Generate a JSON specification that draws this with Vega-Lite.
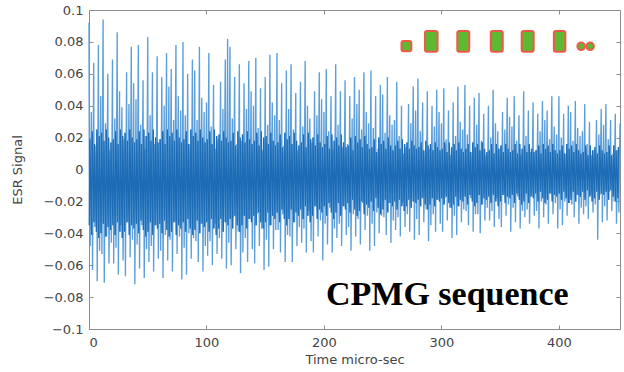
{
"$schema": "https://vega.github.io/schema/vega-lite/v6.json",
"width": 531, "height": 319,
"autosize": "none",
"padding": {"left": 89, "top": 10, "right": 4, "bottom": 43},
"background": "white",
"config": {
 "view": {"stroke": "#8c8c8c", "strokeWidth": 1},
 "axis": {"labelFont": "DejaVu Sans", "labelFontSize": 13, "labelColor": "#444444", "titleFont": "DejaVu Sans", "titleFontSize": 13, "titleColor": "#444444", "titleFontWeight": "normal", "domain": false, "grid": false, "tickColor": "#8c8c8c", "tickSize": -4}
},
"resolve": {"axis": {"x": "independent", "y": "independent"}},
"datasets": {"sig": [
{"t":0,"v":0.092},{"t":0.33,"v":-0.035},{"t":0.67,"v":0.019},{"t":1,"v":-0.048},{"t":2,"v":0.036},{"t":2.33,"v":-0.041},{"t":2.67,"v":0.024},{"t":3,"v":-0.063},{"t":4,"v":0.067},{"t":4.33,"v":-0.033},{"t":4.67,"v":0.016},{"t":5,"v":-0.036},{"t":6,"v":0.015},{"t":6.33,"v":-0.039},{"t":6.67,"v":0.025},{"t":7,"v":-0.070},{"t":8,"v":0.078},{"t":8.33,"v":-0.043},{"t":8.67,"v":0.021},{"t":9,"v":-0.051},
{"t":10,"v":0.046},{"t":10.33,"v":-0.040},{"t":10.67,"v":0.023},{"t":11,"v":-0.053},{"t":12,"v":0.094},{"t":12.33,"v":-0.034},{"t":12.67,"v":0.018},{"t":13,"v":-0.071},{"t":14,"v":0.029},{"t":14.33,"v":-0.042},{"t":14.67,"v":0.025},{"t":15,"v":-0.042},{"t":16,"v":0.060},{"t":16.33,"v":-0.036},{"t":16.67,"v":0.020},{"t":17,"v":-0.059},{"t":18,"v":0.012},{"t":18.33,"v":-0.038},{"t":18.67,"v":0.017},{"t":19,"v":-0.046},
{"t":20,"v":0.069},{"t":20.33,"v":-0.035},{"t":20.67,"v":0.019},{"t":21,"v":-0.059},{"t":22,"v":0.032},{"t":22.33,"v":-0.041},{"t":22.67,"v":0.024},{"t":23,"v":-0.049},{"t":24,"v":0.086},{"t":24.33,"v":-0.033},{"t":24.67,"v":0.016},{"t":25,"v":-0.066},{"t":26,"v":0.049},{"t":26.33,"v":-0.039},{"t":26.67,"v":0.025},{"t":27,"v":-0.035},{"t":28,"v":0.039},{"t":28.33,"v":-0.043},{"t":28.67,"v":0.021},{"t":29,"v":-0.057},
{"t":30,"v":0.019},{"t":30.33,"v":-0.039},{"t":30.67,"v":0.023},{"t":31,"v":-0.067},{"t":32,"v":0.061},{"t":32.33,"v":-0.033},{"t":32.67,"v":0.018},{"t":33,"v":-0.033},{"t":34,"v":0.041},{"t":34.33,"v":-0.041},{"t":34.67,"v":0.025},{"t":35,"v":-0.055},{"t":36,"v":0.077},{"t":36.33,"v":-0.035},{"t":36.67,"v":0.020},{"t":37,"v":-0.044},{"t":38,"v":0.054},{"t":38.33,"v":-0.037},{"t":38.67,"v":0.017},{"t":39,"v":-0.072},
{"t":40,"v":0.044},{"t":40.33,"v":-0.034},{"t":40.67,"v":0.019},{"t":41,"v":-0.047},{"t":42,"v":0.078},{"t":42.33,"v":-0.040},{"t":42.67,"v":0.024},{"t":43,"v":-0.062},{"t":44,"v":0.028},{"t":44.33,"v":-0.032},{"t":44.67,"v":0.016},{"t":45,"v":-0.035},{"t":46,"v":0.056},{"t":46.33,"v":-0.038},{"t":46.67,"v":0.025},{"t":47,"v":-0.068},{"t":48,"v":0.013},{"t":48.33,"v":-0.042},{"t":48.67,"v":0.021},{"t":49,"v":-0.050},
{"t":50,"v":0.083},{"t":50.33,"v":-0.039},{"t":50.67,"v":0.023},{"t":51,"v":-0.058},{"t":52,"v":0.034},{"t":52.33,"v":-0.033},{"t":52.67,"v":0.018},{"t":53,"v":-0.048},{"t":54,"v":0.061},{"t":54.33,"v":-0.041},{"t":54.67,"v":0.025},{"t":55,"v":-0.064},{"t":56,"v":0.016},{"t":56.33,"v":-0.035},{"t":56.67,"v":0.020},{"t":57,"v":-0.035},{"t":58,"v":0.071},{"t":58.33,"v":-0.037},{"t":58.67,"v":0.017},{"t":59,"v":-0.056},
{"t":60,"v":0.019},{"t":60.33,"v":-0.034},{"t":60.67,"v":0.019},{"t":61,"v":-0.051},{"t":62,"v":0.058},{"t":62.33,"v":-0.040},{"t":62.67,"v":0.024},{"t":63,"v":-0.068},{"t":64,"v":0.040},{"t":64.33,"v":-0.032},{"t":64.67,"v":0.016},{"t":65,"v":-0.041},{"t":66,"v":0.073},{"t":66.33,"v":-0.038},{"t":66.67,"v":0.025},{"t":67,"v":-0.057},{"t":68,"v":0.052},{"t":68.33,"v":-0.042},{"t":68.67,"v":0.021},{"t":69,"v":-0.044},
{"t":70,"v":0.063},{"t":70.33,"v":-0.039},{"t":70.67,"v":0.023},{"t":71,"v":-0.064},{"t":72,"v":0.031},{"t":72.33,"v":-0.033},{"t":72.67,"v":0.018},{"t":73,"v":-0.033},{"t":74,"v":0.078},{"t":74.33,"v":-0.041},{"t":74.67,"v":0.025},{"t":75,"v":-0.053},{"t":76,"v":0.046},{"t":76.33,"v":-0.035},{"t":76.67,"v":0.020},{"t":77,"v":-0.042},{"t":78,"v":0.037},{"t":78.33,"v":-0.037},{"t":78.67,"v":0.017},{"t":79,"v":-0.069},
{"t":80,"v":0.080},{"t":80.33,"v":-0.033},{"t":80.67,"v":0.019},{"t":81,"v":-0.049},{"t":82,"v":0.034},{"t":82.33,"v":-0.039},{"t":82.67,"v":0.024},{"t":83,"v":-0.066},{"t":84,"v":0.060},{"t":84.33,"v":-0.031},{"t":84.67,"v":0.016},{"t":85,"v":-0.040},{"t":86,"v":0.016},{"t":86.33,"v":-0.037},{"t":86.67,"v":0.025},{"t":87,"v":-0.056},{"t":88,"v":0.069},{"t":88.33,"v":-0.041},{"t":88.67,"v":0.021},{"t":89,"v":-0.043},
{"t":90,"v":0.062},{"t":90.33,"v":-0.038},{"t":90.67,"v":0.023},{"t":91,"v":-0.045},{"t":92,"v":0.031},{"t":92.33,"v":-0.032},{"t":92.67,"v":0.018},{"t":93,"v":-0.058},{"t":94,"v":0.077},{"t":94.33,"v":-0.040},{"t":94.67,"v":0.025},{"t":95,"v":-0.034},{"t":96,"v":0.045},{"t":96.33,"v":-0.034},{"t":96.67,"v":0.020},{"t":97,"v":-0.064},{"t":98,"v":0.036},{"t":98.33,"v":-0.036},{"t":98.67,"v":0.017},{"t":99,"v":-0.048},
{"t":100,"v":0.042},{"t":100.33,"v":-0.033},{"t":100.67,"v":0.019},{"t":101,"v":-0.054},{"t":102,"v":0.073},{"t":102.33,"v":-0.039},{"t":102.67,"v":0.024},{"t":103,"v":-0.045},{"t":104,"v":0.027},{"t":104.33,"v":-0.031},{"t":104.67,"v":0.016},{"t":105,"v":-0.060},{"t":106,"v":0.053},{"t":106.33,"v":-0.037},{"t":106.67,"v":0.025},{"t":107,"v":-0.034},{"t":108,"v":0.013},{"t":108.33,"v":-0.041},{"t":108.67,"v":0.021},{"t":109,"v":-0.053},
{"t":110,"v":0.019},{"t":110.33,"v":-0.037},{"t":110.67,"v":0.022},{"t":111,"v":-0.043},{"t":112,"v":0.055},{"t":112.33,"v":-0.031},{"t":112.67,"v":0.018},{"t":113,"v":-0.056},{"t":114,"v":0.038},{"t":114.33,"v":-0.039},{"t":114.67,"v":0.024},{"t":115,"v":-0.033},{"t":116,"v":0.069},{"t":116.33,"v":-0.033},{"t":116.67,"v":0.020},{"t":117,"v":-0.062},{"t":118,"v":0.082},{"t":118.33,"v":-0.035},{"t":118.67,"v":0.017},{"t":119,"v":-0.046},
{"t":120,"v":0.077},{"t":120.33,"v":-0.031},{"t":120.67,"v":0.018},{"t":121,"v":-0.060},{"t":122,"v":0.032},{"t":122.33,"v":-0.037},{"t":122.67,"v":0.023},{"t":123,"v":-0.030},{"t":124,"v":0.058},{"t":124.33,"v":-0.029},{"t":124.67,"v":0.015},{"t":125,"v":-0.050},{"t":126,"v":0.016},{"t":126.33,"v":-0.035},{"t":126.67,"v":0.024},{"t":127,"v":-0.039},{"t":128,"v":0.066},{"t":128.33,"v":-0.039},{"t":128.67,"v":0.020},{"t":129,"v":-0.065},
{"t":130,"v":0.018},{"t":130.33,"v":-0.035},{"t":130.67,"v":0.022},{"t":131,"v":-0.052},{"t":132,"v":0.054},{"t":132.33,"v":-0.029},{"t":132.67,"v":0.017},{"t":133,"v":-0.043},{"t":134,"v":0.038},{"t":134.33,"v":-0.037},{"t":134.67,"v":0.024},{"t":135,"v":-0.058},{"t":136,"v":0.068},{"t":136.33,"v":-0.031},{"t":136.67,"v":0.019},{"t":137,"v":-0.031},{"t":138,"v":0.049},{"t":138.33,"v":-0.033},{"t":138.67,"v":0.016},{"t":139,"v":-0.050},
{"t":140,"v":0.040},{"t":140.33,"v":-0.029},{"t":140.67,"v":0.018},{"t":141,"v":-0.059},{"t":142,"v":0.070},{"t":142.33,"v":-0.035},{"t":142.67,"v":0.023},{"t":143,"v":-0.028},{"t":144,"v":0.026},{"t":144.33,"v":-0.027},{"t":144.67,"v":0.015},{"t":145,"v":-0.048},{"t":146,"v":0.051},{"t":146.33,"v":-0.033},{"t":146.67,"v":0.024},{"t":147,"v":-0.037},{"t":148,"v":0.012},{"t":148.33,"v":-0.037},{"t":148.67,"v":0.020},{"t":149,"v":-0.063},
{"t":150,"v":0.058},{"t":150.33,"v":-0.033},{"t":150.67,"v":0.021},{"t":151,"v":-0.044},{"t":152,"v":0.028},{"t":152.33,"v":-0.027},{"t":152.67,"v":0.016},{"t":153,"v":-0.061},{"t":154,"v":0.072},{"t":154.33,"v":-0.035},{"t":154.67,"v":0.023},{"t":155,"v":-0.035},{"t":156,"v":0.042},{"t":156.33,"v":-0.029},{"t":156.67,"v":0.018},{"t":157,"v":-0.050},{"t":158,"v":0.034},{"t":158.33,"v":-0.031},{"t":158.67,"v":0.015},{"t":159,"v":-0.038},
{"t":160,"v":0.073},{"t":160.33,"v":-0.027},{"t":160.67,"v":0.017},{"t":161,"v":-0.038},{"t":162,"v":0.031},{"t":162.33,"v":-0.033},{"t":162.67,"v":0.022},{"t":163,"v":-0.052},{"t":164,"v":0.054},{"t":164.33,"v":-0.025},{"t":164.67,"v":0.014},{"t":165,"v":-0.028},{"t":166,"v":0.015},{"t":166.33,"v":-0.031},{"t":166.67,"v":0.023},{"t":167,"v":-0.058},{"t":168,"v":0.062},{"t":168.33,"v":-0.035},{"t":168.67,"v":0.019},{"t":169,"v":-0.041},
{"t":170,"v":0.038},{"t":170.33,"v":-0.031},{"t":170.67,"v":0.021},{"t":171,"v":-0.042},{"t":172,"v":0.066},{"t":172.33,"v":-0.025},{"t":172.67,"v":0.016},{"t":173,"v":-0.058},{"t":174,"v":0.025},{"t":174.33,"v":-0.033},{"t":174.67,"v":0.023},{"t":175,"v":-0.033},{"t":176,"v":0.048},{"t":176.33,"v":-0.027},{"t":176.67,"v":0.018},{"t":177,"v":-0.048},{"t":178,"v":0.012},{"t":178.33,"v":-0.029},{"t":178.67,"v":0.015},{"t":179,"v":-0.036},
{"t":180,"v":0.055},{"t":180.33,"v":-0.025},{"t":180.67,"v":0.017},{"t":181,"v":-0.046},{"t":182,"v":0.027},{"t":182.33,"v":-0.031},{"t":182.67,"v":0.022},{"t":183,"v":-0.037},{"t":184,"v":0.068},{"t":184.33,"v":-0.023},{"t":184.67,"v":0.014},{"t":185,"v":-0.052},{"t":186,"v":0.040},{"t":186.33,"v":-0.029},{"t":186.67,"v":0.023},{"t":187,"v":-0.026},{"t":188,"v":0.032},{"t":188.33,"v":-0.033},{"t":188.67,"v":0.019},{"t":189,"v":-0.045},
{"t":190,"v":0.017},{"t":190.33,"v":-0.029},{"t":190.67,"v":0.020},{"t":191,"v":-0.052},{"t":192,"v":0.049},{"t":192.33,"v":-0.023},{"t":192.67,"v":0.015},{"t":193,"v":-0.023},{"t":194,"v":0.034},{"t":194.33,"v":-0.031},{"t":194.67,"v":0.022},{"t":195,"v":-0.042},{"t":196,"v":0.061},{"t":196.33,"v":-0.025},{"t":196.67,"v":0.017},{"t":197,"v":-0.032},{"t":198,"v":0.044},{"t":198.33,"v":-0.027},{"t":198.67,"v":0.014},{"t":199,"v":-0.057},
{"t":200,"v":0.036},{"t":200.33,"v":-0.023},{"t":200.67,"v":0.016},{"t":201,"v":-0.034},{"t":202,"v":0.063},{"t":202.33,"v":-0.029},{"t":202.67,"v":0.021},{"t":203,"v":-0.047},{"t":204,"v":0.024},{"t":204.33,"v":-0.021},{"t":204.67,"v":0.013},{"t":205,"v":-0.024},{"t":206,"v":0.046},{"t":206.33,"v":-0.027},{"t":206.67,"v":0.022},{"t":207,"v":-0.052},{"t":208,"v":0.012},{"t":208.33,"v":-0.031},{"t":208.67,"v":0.018},{"t":209,"v":-0.037},
{"t":210,"v":0.066},{"t":210.33,"v":-0.027},{"t":210.67,"v":0.020},{"t":211,"v":-0.043},{"t":212,"v":0.028},{"t":212.33,"v":-0.021},{"t":212.67,"v":0.015},{"t":213,"v":-0.034},{"t":214,"v":0.049},{"t":214.33,"v":-0.029},{"t":214.67,"v":0.022},{"t":215,"v":-0.048},{"t":216,"v":0.014},{"t":216.33,"v":-0.023},{"t":216.67,"v":0.017},{"t":217,"v":-0.023},{"t":218,"v":0.056},{"t":218.33,"v":-0.025},{"t":218.67,"v":0.014},{"t":219,"v":-0.041},
{"t":220,"v":0.016},{"t":220.33,"v":-0.021},{"t":220.67,"v":0.015},{"t":221,"v":-0.036},{"t":222,"v":0.046},{"t":222.33,"v":-0.027},{"t":222.67,"v":0.020},{"t":223,"v":-0.051},{"t":224,"v":0.032},{"t":224.33,"v":-0.019},{"t":224.67,"v":0.012},{"t":225,"v":-0.028},{"t":226,"v":0.058},{"t":226.33,"v":-0.025},{"t":226.67,"v":0.021},{"t":227,"v":-0.042},{"t":228,"v":0.041},{"t":228.33,"v":-0.029},{"t":228.67,"v":0.017},{"t":229,"v":-0.031},
{"t":230,"v":0.050},{"t":230.33,"v":-0.026},{"t":230.67,"v":0.019},{"t":231,"v":-0.047},{"t":232,"v":0.025},{"t":232.33,"v":-0.020},{"t":232.67,"v":0.014},{"t":233,"v":-0.021},{"t":234,"v":0.061},{"t":234.33,"v":-0.028},{"t":234.67,"v":0.021},{"t":235,"v":-0.038},{"t":236,"v":0.036},{"t":236.33,"v":-0.022},{"t":236.67,"v":0.016},{"t":237,"v":-0.029},{"t":238,"v":0.029},{"t":238.33,"v":-0.024},{"t":238.67,"v":0.013},{"t":239,"v":-0.051},
{"t":240,"v":0.062},{"t":240.33,"v":-0.020},{"t":240.67,"v":0.014},{"t":241,"v":-0.034},{"t":242,"v":0.026},{"t":242.33,"v":-0.026},{"t":242.67,"v":0.019},{"t":243,"v":-0.048},{"t":244,"v":0.046},{"t":244.33,"v":-0.018},{"t":244.67,"v":0.011},{"t":245,"v":-0.027},{"t":246,"v":0.013},{"t":246.33,"v":-0.024},{"t":246.67,"v":0.020},{"t":247,"v":-0.040},{"t":248,"v":0.053},{"t":248.33,"v":-0.028},{"t":248.67,"v":0.016},{"t":249,"v":-0.029},
{"t":250,"v":0.047},{"t":250.33,"v":-0.025},{"t":250.67,"v":0.018},{"t":251,"v":-0.030},{"t":252,"v":0.023},{"t":252.33,"v":-0.019},{"t":252.67,"v":0.013},{"t":253,"v":-0.041},{"t":254,"v":0.058},{"t":254.33,"v":-0.027},{"t":254.67,"v":0.020},{"t":255,"v":-0.021},{"t":256,"v":0.034},{"t":256.33,"v":-0.021},{"t":256.67,"v":0.015},{"t":257,"v":-0.046},{"t":258,"v":0.028},{"t":258.33,"v":-0.023},{"t":258.67,"v":0.012},{"t":259,"v":-0.032},
{"t":260,"v":0.031},{"t":260.33,"v":-0.020},{"t":260.67,"v":0.015},{"t":261,"v":-0.038},{"t":262,"v":0.055},{"t":262.33,"v":-0.025},{"t":262.67,"v":0.018},{"t":263,"v":-0.030},{"t":264,"v":0.021},{"t":264.33,"v":-0.019},{"t":264.67,"v":0.013},{"t":265,"v":-0.042},{"t":266,"v":0.040},{"t":266.33,"v":-0.023},{"t":266.67,"v":0.019},{"t":267,"v":-0.021},{"t":268,"v":0.010},{"t":268.33,"v":-0.026},{"t":268.67,"v":0.016},{"t":269,"v":-0.036},
{"t":270,"v":0.014},{"t":270.33,"v":-0.023},{"t":270.67,"v":0.017},{"t":271,"v":-0.028},{"t":272,"v":0.041},{"t":272.33,"v":-0.019},{"t":272.67,"v":0.013},{"t":273,"v":-0.039},{"t":274,"v":0.029},{"t":274.33,"v":-0.024},{"t":274.67,"v":0.018},{"t":275,"v":-0.020},{"t":276,"v":0.052},{"t":276.33,"v":-0.020},{"t":276.67,"v":0.015},{"t":277,"v":-0.044},{"t":278,"v":0.037},{"t":278.33,"v":-0.021},{"t":278.67,"v":0.013},{"t":279,"v":-0.031},
{"t":280,"v":0.057},{"t":280.33,"v":-0.019},{"t":280.67,"v":0.014},{"t":281,"v":-0.041},{"t":282,"v":0.024},{"t":282.33,"v":-0.023},{"t":282.67,"v":0.017},{"t":283,"v":-0.018},{"t":284,"v":0.042},{"t":284.33,"v":-0.018},{"t":284.67,"v":0.012},{"t":285,"v":-0.033},{"t":286,"v":0.012},{"t":286.33,"v":-0.022},{"t":286.67,"v":0.018},{"t":287,"v":-0.025},{"t":288,"v":0.049},{"t":288.33,"v":-0.025},{"t":288.67,"v":0.015},{"t":289,"v":-0.045},
{"t":290,"v":0.013},{"t":290.33,"v":-0.022},{"t":290.67,"v":0.016},{"t":291,"v":-0.035},{"t":292,"v":0.040},{"t":292.33,"v":-0.018},{"t":292.67,"v":0.012},{"t":293,"v":-0.028},{"t":294,"v":0.027},{"t":294.33,"v":-0.023},{"t":294.67,"v":0.017},{"t":295,"v":-0.039},{"t":296,"v":0.050},{"t":296.33,"v":-0.019},{"t":296.67,"v":0.014},{"t":297,"v":-0.019},{"t":298,"v":0.036},{"t":298.33,"v":-0.020},{"t":298.67,"v":0.012},{"t":299,"v":-0.034},
{"t":300,"v":0.029},{"t":300.33,"v":-0.018},{"t":300.67,"v":0.013},{"t":301,"v":-0.039},{"t":302,"v":0.051},{"t":302.33,"v":-0.022},{"t":302.67,"v":0.017},{"t":303,"v":-0.018},{"t":304,"v":0.019},{"t":304.33,"v":-0.017},{"t":304.67,"v":0.011},{"t":305,"v":-0.032},{"t":306,"v":0.037},{"t":306.33,"v":-0.021},{"t":306.67,"v":0.017},{"t":307,"v":-0.024},{"t":308,"v":0.009},{"t":308.33,"v":-0.024},{"t":308.67,"v":0.014},{"t":309,"v":-0.043},
{"t":310,"v":0.042},{"t":310.33,"v":-0.022},{"t":310.67,"v":0.016},{"t":311,"v":-0.029},{"t":312,"v":0.021},{"t":312.33,"v":-0.017},{"t":312.67,"v":0.012},{"t":313,"v":-0.041},{"t":314,"v":0.052},{"t":314.33,"v":-0.023},{"t":314.67,"v":0.017},{"t":315,"v":-0.023},{"t":316,"v":0.030},{"t":316.33,"v":-0.019},{"t":316.67,"v":0.013},{"t":317,"v":-0.033},{"t":318,"v":0.025},{"t":318.33,"v":-0.020},{"t":318.67,"v":0.011},{"t":319,"v":-0.025},
{"t":320,"v":0.053},{"t":320.33,"v":-0.017},{"t":320.67,"v":0.013},{"t":321,"v":-0.026},{"t":322,"v":0.022},{"t":322.33,"v":-0.022},{"t":322.67,"v":0.016},{"t":323,"v":-0.035},{"t":324,"v":0.040},{"t":324.33,"v":-0.016},{"t":324.67,"v":0.011},{"t":325,"v":-0.018},{"t":326,"v":0.011},{"t":326.33,"v":-0.020},{"t":326.67,"v":0.017},{"t":327,"v":-0.039},{"t":328,"v":0.045},{"t":328.33,"v":-0.023},{"t":328.67,"v":0.014},{"t":329,"v":-0.028},
{"t":330,"v":0.028},{"t":330.33,"v":-0.021},{"t":330.67,"v":0.016},{"t":331,"v":-0.028},{"t":332,"v":0.048},{"t":332.33,"v":-0.016},{"t":332.67,"v":0.012},{"t":333,"v":-0.040},{"t":334,"v":0.018},{"t":334.33,"v":-0.022},{"t":334.67,"v":0.017},{"t":335,"v":-0.022},{"t":336,"v":0.035},{"t":336.33,"v":-0.018},{"t":336.67,"v":0.013},{"t":337,"v":-0.032},{"t":338,"v":0.009},{"t":338.33,"v":-0.019},{"t":338.67,"v":0.011},{"t":339,"v":-0.024},
{"t":340,"v":0.040},{"t":340.33,"v":-0.017},{"t":340.67,"v":0.012},{"t":341,"v":-0.032},{"t":342,"v":0.020},{"t":342.33,"v":-0.021},{"t":342.67,"v":0.016},{"t":343,"v":-0.026},{"t":344,"v":0.050},{"t":344.33,"v":-0.016},{"t":344.67,"v":0.010},{"t":345,"v":-0.036},{"t":346,"v":0.029},{"t":346.33,"v":-0.020},{"t":346.67,"v":0.016},{"t":347,"v":-0.018},{"t":348,"v":0.024},{"t":348.33,"v":-0.023},{"t":348.67,"v":0.013},{"t":349,"v":-0.031},
{"t":350,"v":0.013},{"t":350.33,"v":-0.020},{"t":350.67,"v":0.015},{"t":351,"v":-0.036},{"t":352,"v":0.036},{"t":352.33,"v":-0.016},{"t":352.67,"v":0.011},{"t":353,"v":-0.016},{"t":354,"v":0.025},{"t":354.33,"v":-0.021},{"t":354.67,"v":0.016},{"t":355,"v":-0.029},{"t":356,"v":0.045},{"t":356.33,"v":-0.017},{"t":356.67,"v":0.013},{"t":357,"v":-0.022},{"t":358,"v":0.033},{"t":358.33,"v":-0.018},{"t":358.67,"v":0.011},{"t":359,"v":-0.039},
{"t":360,"v":0.027},{"t":360.33,"v":-0.016},{"t":360.67,"v":0.012},{"t":361,"v":-0.024},{"t":362,"v":0.046},{"t":362.33,"v":-0.021},{"t":362.67,"v":0.016},{"t":363,"v":-0.033},{"t":364,"v":0.018},{"t":364.33,"v":-0.015},{"t":364.67,"v":0.010},{"t":365,"v":-0.017},{"t":366,"v":0.034},{"t":366.33,"v":-0.019},{"t":366.67,"v":0.016},{"t":367,"v":-0.037},{"t":368,"v":0.009},{"t":368.33,"v":-0.022},{"t":368.67,"v":0.013},{"t":369,"v":-0.026},
{"t":370,"v":0.049},{"t":370.33,"v":-0.020},{"t":370.67,"v":0.015},{"t":371,"v":-0.030},{"t":372,"v":0.021},{"t":372.33,"v":-0.015},{"t":372.67,"v":0.011},{"t":373,"v":-0.025},{"t":374,"v":0.037},{"t":374.33,"v":-0.021},{"t":374.67,"v":0.016},{"t":375,"v":-0.034},{"t":376,"v":0.011},{"t":376.33,"v":-0.017},{"t":376.67,"v":0.013},{"t":377,"v":-0.017},{"t":378,"v":0.042},{"t":378.33,"v":-0.018},{"t":378.67,"v":0.011},{"t":379,"v":-0.029},
{"t":380,"v":0.012},{"t":380.33,"v":-0.015},{"t":380.67,"v":0.012},{"t":381,"v":-0.026},{"t":382,"v":0.035},{"t":382.33,"v":-0.020},{"t":382.67,"v":0.015},{"t":383,"v":-0.037},{"t":384,"v":0.024},{"t":384.33,"v":-0.014},{"t":384.67,"v":0.010},{"t":385,"v":-0.020},{"t":386,"v":0.043},{"t":386.33,"v":-0.018},{"t":386.67,"v":0.016},{"t":387,"v":-0.030},{"t":388,"v":0.031},{"t":388.33,"v":-0.021},{"t":388.67,"v":0.013},{"t":389,"v":-0.022},
{"t":390,"v":0.037},{"t":390.33,"v":-0.019},{"t":390.67,"v":0.015},{"t":391,"v":-0.034},{"t":392,"v":0.019},{"t":392.33,"v":-0.015},{"t":392.67,"v":0.011},{"t":393,"v":-0.015},{"t":394,"v":0.046},{"t":394.33,"v":-0.020},{"t":394.67,"v":0.016},{"t":395,"v":-0.028},{"t":396,"v":0.027},{"t":396.33,"v":-0.016},{"t":396.67,"v":0.012},{"t":397,"v":-0.021},{"t":398,"v":0.022},{"t":398.33,"v":-0.017},{"t":398.67,"v":0.010},{"t":399,"v":-0.037},
{"t":400,"v":0.046},{"t":400.33,"v":-0.015},{"t":400.67,"v":0.012},{"t":401,"v":-0.025},{"t":402,"v":0.020},{"t":402.33,"v":-0.019},{"t":402.67,"v":0.015},{"t":403,"v":-0.035},{"t":404,"v":0.035},{"t":404.33,"v":-0.014},{"t":404.67,"v":0.010},{"t":405,"v":-0.020},{"t":406,"v":0.010},{"t":406.33,"v":-0.018},{"t":406.67,"v":0.016},{"t":407,"v":-0.029},{"t":408,"v":0.040},{"t":408.33,"v":-0.021},{"t":408.67,"v":0.013},{"t":409,"v":-0.021},
{"t":410,"v":0.036},{"t":410.33,"v":-0.019},{"t":410.67,"v":0.015},{"t":411,"v":-0.022},{"t":412,"v":0.018},{"t":412.33,"v":-0.014},{"t":412.67,"v":0.011},{"t":413,"v":-0.030},{"t":414,"v":0.043},{"t":414.33,"v":-0.020},{"t":414.67,"v":0.016},{"t":415,"v":-0.016},{"t":416,"v":0.026},{"t":416.33,"v":-0.016},{"t":416.67,"v":0.012},{"t":417,"v":-0.034},{"t":418,"v":0.021},{"t":418.33,"v":-0.017},{"t":418.67,"v":0.010},{"t":419,"v":-0.024},
{"t":420,"v":0.024},{"t":420.33,"v":-0.014},{"t":420.67,"v":0.011},{"t":421,"v":-0.028},{"t":422,"v":0.041},{"t":422.33,"v":-0.019},{"t":422.67,"v":0.015},{"t":423,"v":-0.023},{"t":424,"v":0.016},{"t":424.33,"v":-0.013},{"t":424.67,"v":0.009},{"t":425,"v":-0.031},{"t":426,"v":0.030},{"t":426.33,"v":-0.017},{"t":426.67,"v":0.015},{"t":427,"v":-0.016},{"t":428,"v":0.009},{"t":428.33,"v":-0.020},{"t":428.67,"v":0.012},{"t":429,"v":-0.027},
{"t":430,"v":0.012},{"t":430.33,"v":-0.018},{"t":430.67,"v":0.014},{"t":431,"v":-0.022},{"t":432,"v":0.031},{"t":432.33,"v":-0.014},{"t":432.67,"v":0.010},{"t":433,"v":-0.044},{"t":434,"v":0.022},{"t":434.33,"v":-0.019},{"t":434.67,"v":0.015},{"t":435,"v":-0.016},{"t":436,"v":0.038},{"t":436.33,"v":-0.015},{"t":436.67,"v":0.012},{"t":437,"v":-0.033},{"t":438,"v":0.028},{"t":438.33,"v":-0.016},{"t":438.67,"v":0.010},{"t":439,"v":-0.023},
{"t":440,"v":0.041},{"t":440.33,"v":-0.014},{"t":440.67,"v":0.011},{"t":441,"v":-0.032},{"t":442,"v":0.019},{"t":442.33,"v":-0.019},{"t":442.67,"v":0.015},{"t":443,"v":-0.014},{"t":444,"v":0.031},{"t":444.33,"v":-0.013},{"t":444.67,"v":0.009},{"t":445,"v":-0.026},{"t":446,"v":0.010},{"t":446.33,"v":-0.017},{"t":446.67,"v":0.015},{"t":447,"v":-0.020},{"t":448,"v":0.035},{"t":448.33,"v":-0.020},{"t":448.67,"v":0.012},{"t":449,"v":-0.034},
{"t":450,"v":0.012},{"t":450.33,"v":-0.018},{"t":450.67,"v":0.014},{"t":451,"v":-0.027},{"t":452,"v":0.029}
]},
"layer": [
{
 "data": {"name": "sig"},
 "mark": {"type": "line", "color": "#5b9ed9", "strokeWidth": 1.35},
 "encoding": {
  "x": {"field": "t", "type": "quantitative", "scale": {"domain": [0, 452], "nice": false, "zero": false},
        "axis": {"values": [0, 100, 200, 300, 400], "title": "Time micro-sec", "labelPadding": 11, "titlePadding": 4}},
  "y": {"field": "v", "type": "quantitative", "scale": {"domain": [-0.1, 0.1], "nice": false, "zero": false},
        "axis": {"values": [-0.1, -0.08, -0.06, -0.04, -0.02, 0, 0.02, 0.04, 0.06, 0.08, 0.1], "format": "~g", "title": "ESR Signal", "labelPadding": 10, "titlePadding": 19}}
 }
},
{
 "data": {"name": "sig"},
 "transform": [{"filter": "datum.t % 1 != 0"}],
 "mark": {"type": "line", "color": "#1d6bb4", "strokeWidth": 1.2},
 "encoding": {
  "x": {"field": "t", "type": "quantitative", "axis": null},
  "y": {"field": "v", "type": "quantitative", "axis": null}
 }
},
{
 "data": {"values": [{"t": 305, "v": -0.085, "label": "CPMG sequence"}]},
 "mark": {"type": "text", "font": "Liberation Serif", "fontSize": 34, "fontWeight": "bold", "align": "center", "baseline": "alphabetic", "color": "#000000"},
 "encoding": {
  "x": {"field": "t", "type": "quantitative", "axis": {"orient": "top", "labels": false, "title": null, "values": [0, 100, 200, 300, 400]}},
  "y": {"field": "v", "type": "quantitative", "axis": {"orient": "right", "labels": false, "title": null, "values": [-0.1, -0.08, -0.06, -0.04, -0.02, 0, 0.02, 0.04, 0.06, 0.08, 0.1]}},
  "text": {"field": "label"}
 }
},
{
 "data": {"values": [
  {"a": 266, "b": 274.4, "lo": 0.0741, "hi": 0.0806},
  {"a": 286, "b": 296.7, "lo": 0.0738, "hi": 0.0869},
  {"a": 313.5, "b": 323.7, "lo": 0.0738, "hi": 0.0869},
  {"a": 342, "b": 352.2, "lo": 0.0738, "hi": 0.0869},
  {"a": 368.3, "b": 378.5, "lo": 0.0738, "hi": 0.0869},
  {"a": 395.7, "b": 405.5, "lo": 0.0738, "hi": 0.0869}
 ]},
 "mark": {"type": "rect", "fill": "#5db832", "stroke": "#ee5a45", "strokeWidth": 2, "cornerRadius": 2},
 "encoding": {
  "x": {"field": "a", "type": "quantitative", "axis": null},
  "x2": {"field": "b"},
  "y": {"field": "lo", "type": "quantitative", "axis": null},
  "y2": {"field": "hi"}
 }
},
{
 "data": {"values": [{"t": 418.9, "v": 0.0772}, {"t": 426.6, "v": 0.0772}]},
 "mark": {"type": "point", "shape": "circle", "size": 56, "fill": "#5db832", "stroke": "#ee5a45", "strokeWidth": 2, "opacity": 1},
 "encoding": {
  "x": {"field": "t", "type": "quantitative", "axis": null},
  "y": {"field": "v", "type": "quantitative", "axis": null}
 }
}
]
}
